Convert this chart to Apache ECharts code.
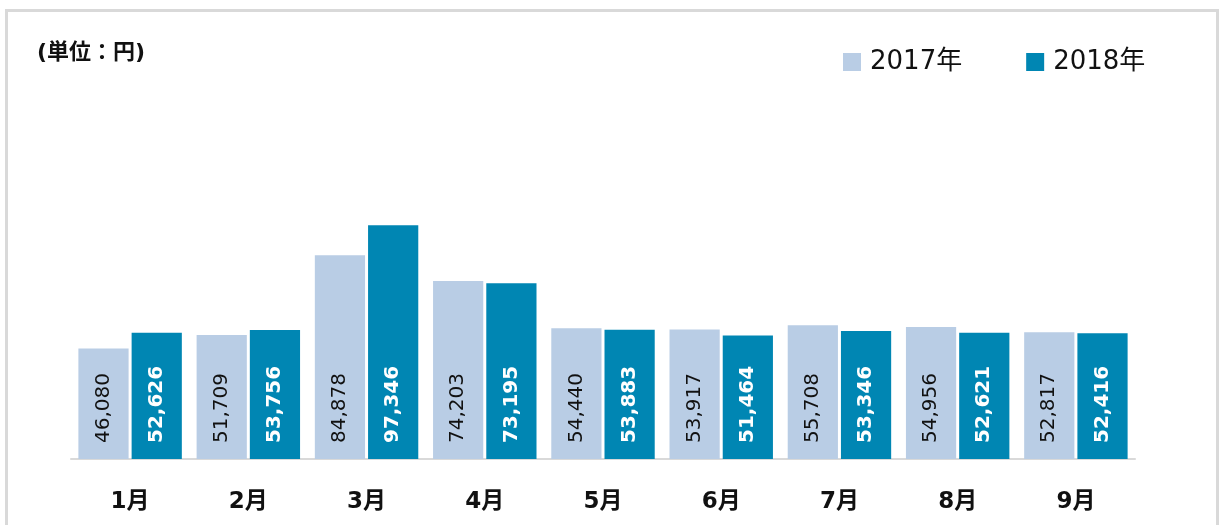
<!DOCTYPE html>
<html>
<head>
<meta charset="utf-8">
<script src="https://cdn.jsdelivr.net/npm/echarts@6/dist/echarts.min.js"></script>
<style>
  html, body { margin: 0; padding: 0; background: #fff; overflow: hidden; }
  #frame {
    position: absolute; left: 5px; top: 9px; width: 1208px; height: 540px;
    border: 3px solid #d9d9d9; border-bottom: none;
  }
  #chart { position: absolute; left: 0; top: 0; width: 1221px; height: 525px; }
</style>
</head>
<body>
<div id="frame"></div>
<div id="chart"></div>
<script>
var months = ['1月', '2月', '3月', '4月', '5月', '6月', '7月', '8月', '9月'];
var data2017 = [46080, 51709, 84878, 74203, 54440, 53917, 55708, 54956, 52817];
var data2018 = [52626, 53756, 97346, 73195, 53883, 51464, 53346, 52621, 52416];
var seriesNames = ['2017年', '2018年'];

var fontFamily = '"DejaVu Sans", "Noto Sans CJK JP", sans-serif';

var chart = echarts.init(document.getElementById('chart'));

function fmt(p) {
    return p.value.toLocaleString('en-US');
}

var option = {
    animation: false,
    textStyle: { fontFamily: fontFamily },
    title: {
        text: '(単位：円)',
        left: 32,
        top: 37,
        textStyle: { fontSize: 22, fontWeight: 'bold', color: '#111', fontFamily: fontFamily }
    },
    legend: {
        data: seriesNames,
        left: 838,
        top: 44,
        itemWidth: 18,
        itemHeight: 18,
        itemGap: 64,
        icon: 'rect',
        textStyle: { fontSize: 26, color: '#111', fontFamily: fontFamily, padding: [0, 0, 0, 4] }
    },
    grid: {
        left: 71,
        right: 86,
        top: 171,
        bottom: 66,
        containLabel: false
    },
    xAxis: {
        type: 'category',
        data: months,
        axisLine: { lineStyle: { color: '#d9d9d9', width: 2 } },
        axisTick: { show: false },
        axisLabel: {
            margin: 32,
            fontSize: 23,
            fontWeight: 'bold',
            color: '#111',
            fontFamily: fontFamily
        }
    },
    yAxis: {
        type: 'value',
        min: 0,
        max: 120000,
        show: false,
        splitLine: { show: false }
    },
    series: [
        {
            name: seriesNames[0],
            type: 'bar',
            data: data2017,
            barGap: '6%',
            barCategoryGap: '12.5%',
            itemStyle: { color: '#b9cde5' },
            label: {
                show: true,
                position: 'insideBottom',
                rotate: 90,
                align: 'left',
                verticalAlign: 'middle',
                distance: 16,
                fontSize: 20,
                color: '#111',
                fontFamily: fontFamily,
                formatter: fmt
            }
        },
        {
            name: seriesNames[1],
            type: 'bar',
            data: data2018,
            itemStyle: { color: '#0086b3' },
            label: {
                show: true,
                position: 'insideBottom',
                rotate: 90,
                align: 'left',
                verticalAlign: 'middle',
                distance: 16,
                fontSize: 20,
                fontWeight: 'bold',
                color: '#fff',
                fontFamily: fontFamily,
                formatter: fmt
            }
        }
    ]
};

chart.setOption(option);
</script>
</body>
</html>
